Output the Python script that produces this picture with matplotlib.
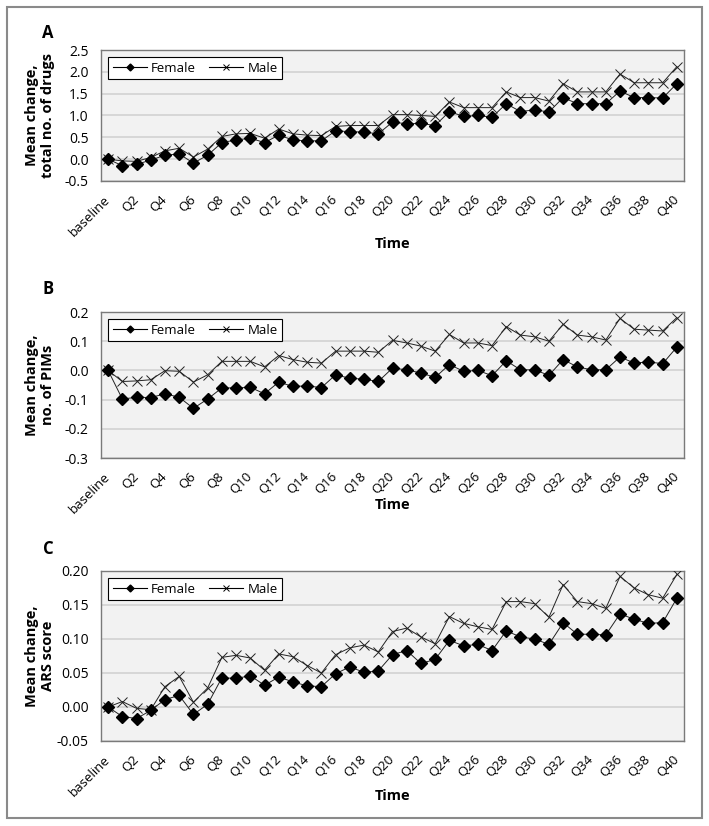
import numpy as np
import matplotlib
matplotlib.use("Agg")
import matplotlib.pyplot as plt
from matplotlib.lines import Line2D
from matplotlib.patches import Rectangle

plt.rcParams['font.family'] = ['Open Sans', 'DejaVu Sans']
plt.rcParams['axes.unicode_minus'] = False

# categories: baseline + 40 quarters
periods = ['baseline'] + ['Q%d' % i for i in range(1, 41)]

# panel A: total number of drugs
drugs_female = [0.0, -0.15, -0.12, -0.02, 0.09, 0.12, -0.09, 0.09, 0.38, 0.44, 0.48,
                0.38, 0.55, 0.44, 0.42, 0.42, 0.65, 0.63, 0.62, 0.58, 0.85,
                0.81, 0.82, 0.77, 1.09, 0.98, 1.00, 0.96, 1.27, 1.09, 1.13,
                1.08, 1.41, 1.27, 1.27, 1.27, 1.56, 1.41, 1.41, 1.40, 1.73]
drugs_male = [0.0, -0.04, -0.05, 0.04, 0.19, 0.25, 0.05, 0.23, 0.52, 0.58, 0.59,
              0.48, 0.69, 0.58, 0.55, 0.54, 0.75, 0.77, 0.77, 0.77, 1.02,
              1.02, 1.00, 0.98, 1.31, 1.18, 1.18, 1.18, 1.54, 1.41, 1.41,
              1.33, 1.73, 1.54, 1.54, 1.54, 1.95, 1.75, 1.75, 1.75, 2.12]

# panel B: number of PIMs
pims_female = [0.0, -0.098, -0.092, -0.093, -0.080, -0.092, -0.130, -0.098, -0.060, -0.060, -0.058,
               -0.080, -0.040, -0.055, -0.053, -0.059, -0.015, -0.027, -0.030, -0.038, 0.008,
               0.002, -0.009, -0.024, 0.020, -0.003, 0.000, -0.018, 0.033, 0.002, 0.002,
               -0.017, 0.037, 0.012, 0.002, 0.002, 0.046, 0.025, 0.029, 0.023, 0.080]
pims_male = [0.0, -0.038, -0.036, -0.032, -0.001, -0.003, -0.040, -0.015, 0.031, 0.031, 0.031,
             0.012, 0.051, 0.037, 0.028, 0.025, 0.066, 0.066, 0.066, 0.062, 0.103,
             0.094, 0.083, 0.066, 0.123, 0.094, 0.094, 0.085, 0.150, 0.121, 0.115,
             0.100, 0.158, 0.121, 0.115, 0.104, 0.178, 0.141, 0.138, 0.135, 0.181]

# panel C: ARS score
ars_female = [0.0, -0.014, -0.017, -0.005, 0.011, 0.017, -0.011, 0.004, 0.043, 0.042, 0.046,
              0.032, 0.044, 0.037, 0.031, 0.030, 0.049, 0.059, 0.051, 0.053, 0.077,
              0.083, 0.064, 0.070, 0.098, 0.090, 0.092, 0.083, 0.112, 0.103, 0.100,
              0.092, 0.124, 0.107, 0.107, 0.106, 0.137, 0.129, 0.123, 0.124, 0.160]
ars_male = [0.0, 0.008, -0.002, -0.004, 0.030, 0.045, 0.007, 0.028, 0.073, 0.076, 0.072,
            0.054, 0.078, 0.074, 0.061, 0.050, 0.077, 0.087, 0.091, 0.081, 0.111,
            0.116, 0.103, 0.093, 0.133, 0.123, 0.118, 0.114, 0.155, 0.155, 0.152,
            0.132, 0.180, 0.155, 0.152, 0.145, 0.192, 0.175, 0.165, 0.160, 0.195]

panels = [
    ('A', 'Mean change,\ntotal no. of drugs', drugs_female, drugs_male,
     np.arange(-0.5, 2.51, 0.5), '%.1f'),
    ('B', 'Mean change,\nno. of PIMs', pims_female, pims_male,
     np.arange(-0.3, 0.201, 0.1), '%.1f'),
    ('C', 'Mean change,\nARS score', ars_female, ars_male,
     np.arange(-0.05, 0.201, 0.05), '%.2f'),
]

W, H = 709, 826
# pixel boxes: (top, bottom) of each axes, letter y, "Time" y
boxes = [(50, 181, 33, 244), (312, 458, 289, 505), (571, 741, 549, 796)]
left, right = 101, 684

fig = plt.figure(figsize=(W / 100, H / 100), dpi=100)
fig.patches.append(Rectangle((7 / W, 1 - 818 / H), 695 / W, 811 / H, transform=fig.transFigure,
                             fill=False, edgecolor='#8a8a8a', linewidth=1.5))

x = np.arange(len(periods))
for (letter, ylab, fem, mal, yticks, fmt), (top, bot, ly, ty) in zip(panels, boxes):
    ax = fig.add_axes([left / W, 1 - bot / H, (right - left) / W, (bot - top) / H])
    ax.set_facecolor('#f2f2f2')
    ax.plot(x, mal, color='#222222', lw=0.7, marker='x', ms=6.5, mew=0.7, zorder=3)
    ax.plot(x, fem, color='#222222', lw=0.7, marker='D', ms=6.5, mfc='black', mec='black', zorder=4)
    ax.set_xlim(-0.5, 40.5)
    ax.set_ylim(yticks[0], yticks[-1])
    ax.set_yticks(yticks)
    ax.set_yticklabels([fmt % v for v in yticks], fontsize=10)
    ax.set_xticks(x[::2])
    ax.set_xticklabels(periods[::2], fontsize=9.5, rotation=45, ha='right', va='center',
                       rotation_mode='anchor')
    ax.tick_params(length=0)
    ax.tick_params(axis='x', pad=12)
    ax.tick_params(axis='y', pad=9)
    ax.grid(axis='y', color='#d2d2d2', lw=1.2)
    ax.set_axisbelow(True)
    for s in ax.spines.values():
        s.set_color('#7a7a7a')
        s.set_linewidth(1)

    handles = [Line2D([], [], color='black', lw=0.8, marker='D', ms=3.5),
               Line2D([], [], color='black', lw=0.8, marker='x', ms=5, mew=0.7)]
    leg = ax.legend(handles, ['Female', 'Male'], ncol=2, loc='upper left',
                    bbox_to_anchor=(7 / (right - left), 1 - 7 / (bot - top)), borderaxespad=0,
                    fontsize=9.5, frameon=True, fancybox=False, edgecolor='black',
                    handlelength=2.6, columnspacing=1.0, handletextpad=0.3,
                    borderpad=0.35)
    leg.get_frame().set_linewidth(0.8)
    leg.get_frame().set_facecolor('white')
    leg.get_frame().set_alpha(1)

    fig.text(48 / W, 1 - ly / H, letter, fontsize=12, fontweight='bold', ha='center', va='center')
    fig.text(40 / W, 1 - (top + bot) / 2 / H, ylab, fontsize=10.5, fontweight='bold', rotation=90,
             ha='center', va='center', multialignment='center', linespacing=1.2)
    fig.text((left + right) / 2 / W, 1 - ty / H, 'Time', fontsize=10.5, fontweight='bold',
             ha='center', va='center')

fig.savefig('out.png', dpi=100)
